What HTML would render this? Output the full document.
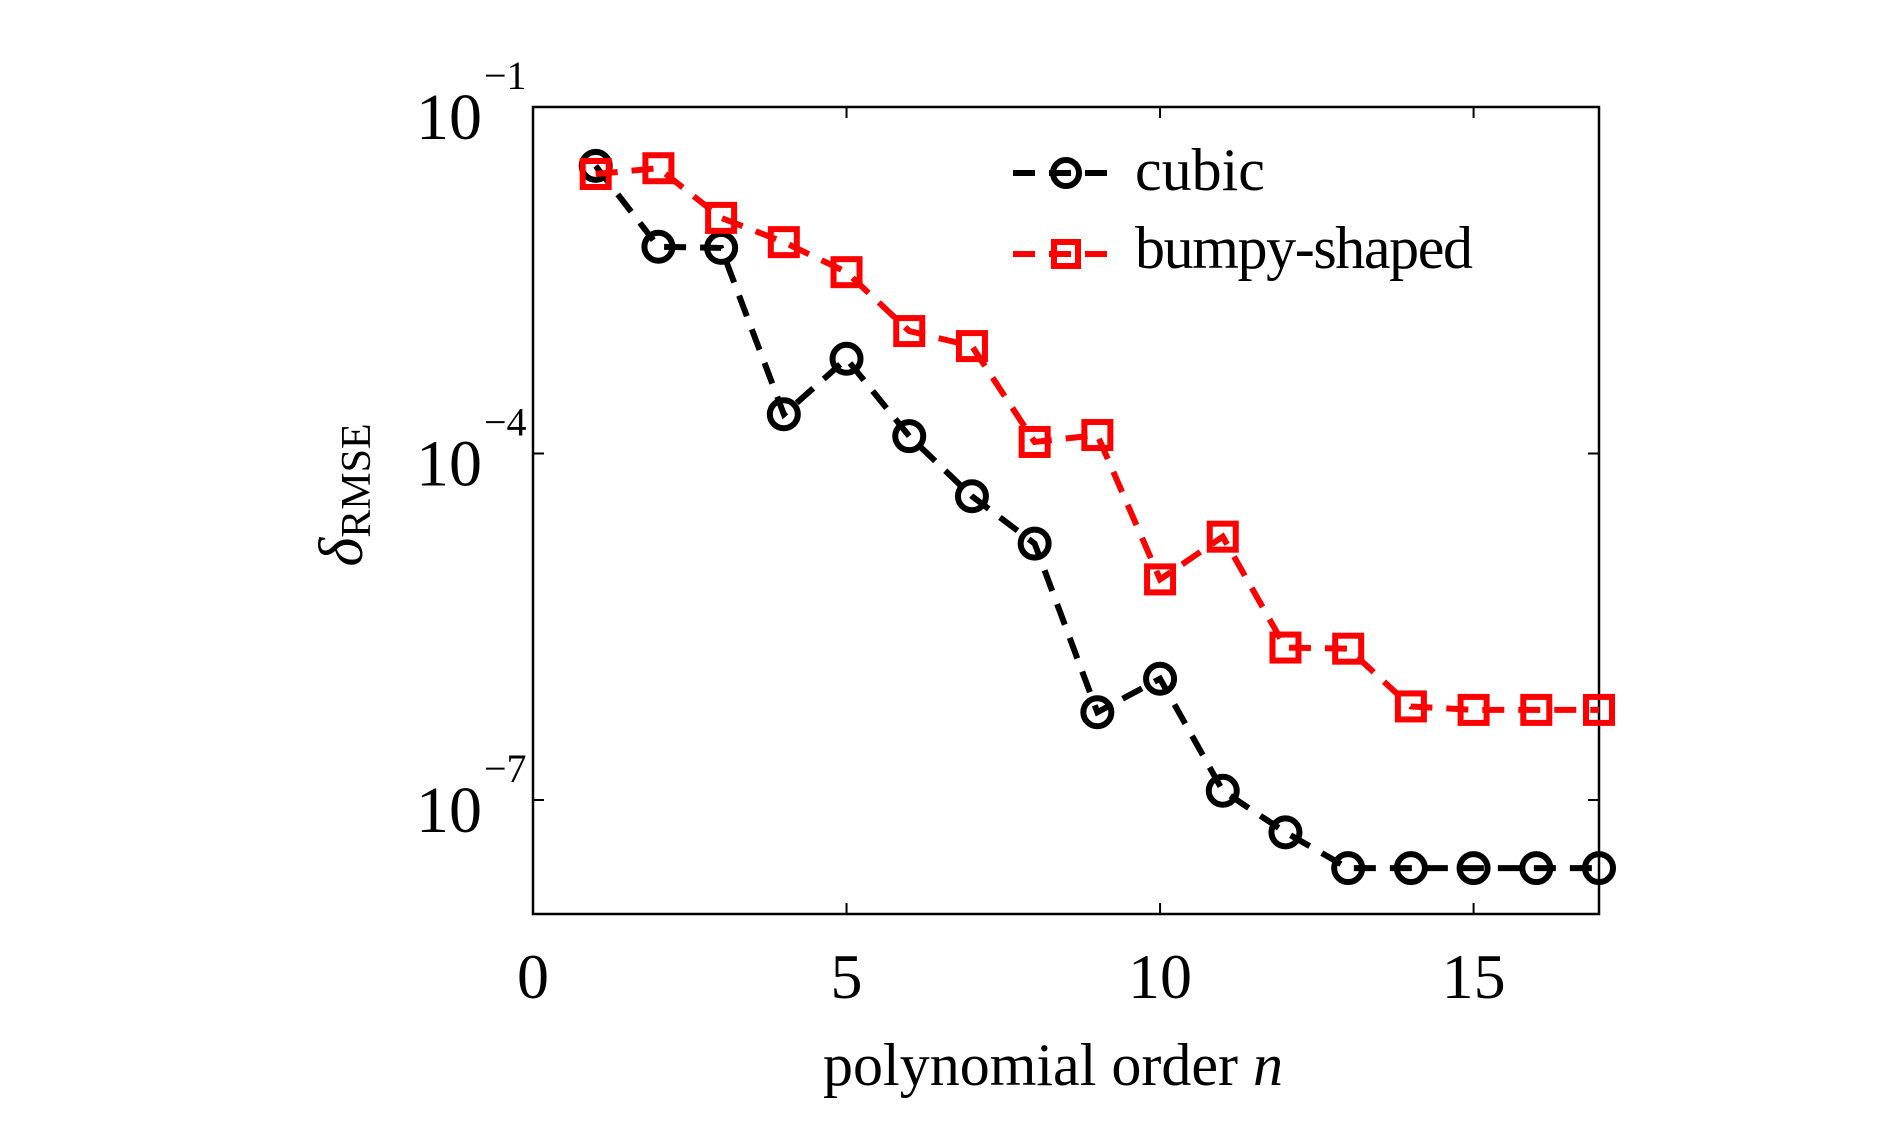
<!DOCTYPE html>
<html><head><meta charset="utf-8"><style>
html,body{margin:0;padding:0;background:#fff;}
svg{display:block;font-family:"Liberation Serif",serif;}
</style></head><body>
<svg id="chart" width="1890" height="1122" viewBox="0 0 1890 1122" xmlns="http://www.w3.org/2000/svg">
<rect x="533" y="107" width="1066" height="807" fill="#fff" stroke="#000" stroke-width="2.5"/>
<g id="ticks"></g>
<g id="series"></g>
<g>
  <g>
    <line x1="1013" y1="173" x2="1118" y2="173" stroke="#000" stroke-width="6" stroke-dasharray="22,14"/>
    <circle cx="1066" cy="173" r="13" fill="none" stroke="#000" stroke-width="6"/>
    <text x="1135" y="190" font-size="60">cubic</text>
  </g>
  <g>
    <line x1="1013" y1="254" x2="1118" y2="254" stroke="#f00" stroke-width="6" stroke-dasharray="22,14"/>
    <rect x="1054" y="242" width="24" height="24" fill="none" stroke="#f00" stroke-width="6"/>
    <text x="1135" y="268" font-size="60" textLength="338">bumpy-shaped</text>
  </g>
</g>
<text x="1053" y="1085" font-size="60" text-anchor="middle">polynomial order <tspan font-style="italic">n</tspan></text>
<text transform="translate(362,495) rotate(-90)" font-size="62" text-anchor="middle"><tspan font-style="italic">δ</tspan><tspan font-size="42" dy="8">RMSE</tspan></text>
<script>
const xTicks=[0,5,10,15];
const yTickExps=[-1,-4,-7];
const nValues=[1,2,3,4,5,6,7,8,9,10,11,12,13,14,15,16,17];
const cubicLog=[-1.51,-2.21,-2.22,-3.66,-3.18,-3.85,-4.37,-4.78,-6.24,-5.95,-6.92,-7.28,-7.59,-7.59,-7.59,-7.59,-7.59];
const bumpyLog=[-1.58,-1.53,-1.96,-2.17,-2.43,-2.94,-3.07,-3.90,-3.84,-5.09,-4.72,-5.68,-5.69,-6.19,-6.22,-6.22,-6.22];
const NS='http://www.w3.org/2000/svg';
const L=533,R=1599,T=107,B=914;
const xS=v=>L+(v-0)/17*(R-L);
const yS=lg=>T+(-1-lg)*115.5;
const ticks=document.getElementById('ticks');
function mk(tag,attrs,parent){const e=document.createElementNS(NS,tag);for(const k in attrs)e.setAttribute(k,attrs[k]);parent.appendChild(e);return e;}
xTicks.forEach(v=>{
  const x=xS(v);
  const t1=mk('line',{x1:x,y1:B,x2:x,y2:B-11,stroke:'#000','stroke-width':2},ticks);
  
  
  const t2=mk('line',{x1:x,y1:T,x2:x,y2:T+11,stroke:'#000','stroke-width':2},ticks);
  
  
  const tx=mk('text',{x:x,y:998,'font-size':64,'text-anchor':'middle'},ticks);
  tx.textContent=String(v);
  
  
});
yTickExps.forEach(e=>{
  const y=yS(e);
  const t1=mk('line',{x1:L,y1:y,x2:L+11,y2:y,stroke:'#000','stroke-width':2},ticks);
  
  
  const t2=mk('line',{x1:R,y1:y,x2:R-11,y2:y,stroke:'#000','stroke-width':2},ticks);
  
  
  const tx=mk('text',{x:482,y:y+32,'font-size':66,'text-anchor':'end'},ticks);
  tx.textContent='10';
  
  
  const ex=mk('text',{x:484,y:y-18,'font-size':40},ticks);
  ex.textContent='\u2212'+Math.abs(e);
  
  
});
const sg=document.getElementById('series');
function drawSeries(vals,color,shape,name){
  const g=mk('g',{},sg);
  
  
  const pts=nValues.map((n,i)=>xS(n)+','+yS(vals[i])).join(' ');
  const pl=mk('polyline',{points:pts,fill:'none',stroke:color,'stroke-width':6,'stroke-dasharray':'22,14'},g);
  
  
  nValues.forEach((n,i)=>{
    const x=xS(n),y=yS(vals[i]);
    let m;
    if(shape==='circle') m=mk('circle',{cx:x,cy:y,r:14,fill:'none',stroke:color,'stroke-width':6},g);
    else m=mk('rect',{x:x-13,y:y-13,width:26,height:26,fill:'none',stroke:color,'stroke-width':6},g);
    
    
  });
}
drawSeries(cubicLog,'#000','circle','cubic-series');
drawSeries(bumpyLog,'#f00','square','bumpy-series');
</script>
</svg>
</body></html>
